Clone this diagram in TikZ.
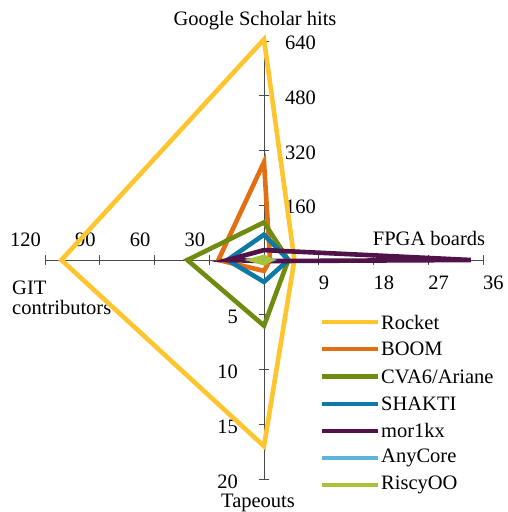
\documentclass[tikz,border=0pt]{standalone}
\usepackage{fontspec}
\setmainfont{Liberation Serif}
\definecolor{cRocket}{HTML}{FFC52F}
\definecolor{cBoom}{HTML}{E36F12}
\definecolor{cCva}{HTML}{6F8C10}
\definecolor{cShakti}{HTML}{0C7AA4}
\definecolor{cMor}{HTML}{51124A}
\definecolor{cAny}{HTML}{5DB5DB}
\definecolor{cRiscy}{HTML}{A8C23C}
\definecolor{cAxis}{HTML}{4A4A4A}
\newcommand\radarpoly[5]{%
  \draw[series,#1] (264,{260-#2/640*219}) -- ({264+#3/36*219},260)
    -- (264,{260+#4/20*219}) -- ({264-#5/120*219},260) -- cycle;}
\newcommand\legitem[3]{%
  \coordinate (l#1a) at (322,#2);
  \coordinate (l#1b) at (378,#2);
  \draw[legline,#1] (l#1a) -- (l#1b);
  \node[lbl,anchor=west] (t#1) at (381,#2) {#3};}
\begin{document}
\begin{tikzpicture}[x=1pt,y=-1pt,
  lbl/.style={inner sep=0pt,font=\fontsize{20.5}{23}\selectfont},
  axisline/.style={draw=cAxis,line width=0.9pt},
  series/.style={line width=4.6pt,line join=miter},
  legline/.style={line width=4.2pt}]
\useasboundingbox (0,0) rectangle (507,512);
\coordinate (C) at (264,260);
% axes
\coordinate (Top) at (264,{260-219});
\coordinate (Right) at ({264+219},260);
\coordinate (Bot) at (264,{260+219});
\coordinate (Left) at ({264-219},260);
\draw[axisline] (Top) -- (Bot);
\draw[axisline] (Left) -- (Right);
% top ticks
\foreach \v in {160,320,480,640}{
  \draw[axisline] (259,{260-\v/640*219}) -- (269,{260-\v/640*219});
  \node[lbl,anchor=west] (tt\v) at (285,{262-\v/640*219}) {\v};}
% right ticks
\foreach \v in {9,18,27,36}{
  \draw[axisline] ({264+\v/36*219},255) -- ({264+\v/36*219},265);
  \node[lbl,anchor=north west] (tr\v) at ({264+\v/36*219},276) {\v};}
% bottom ticks
\foreach \v in {5,10,15,20}{
  \draw[axisline] (259,{260+\v/20*219}) -- (269,{260+\v/20*219});
  \node[lbl,anchor=east] (tb\v) at (238,{262.5+\v/20*219}) {\v};}
% left ticks
\foreach \v in {30,60,90,120}{
  \draw[axisline] ({264-\v/120*219},255) -- ({264-\v/120*219},265);
  \node[lbl,anchor=south east] (tl\v) at ({260-\v/120*219},247) {\v};}
% axis titles
\node[lbl,anchor=base] (tgs) at (255,25) {Google Scholar hits};
\node[lbl,anchor=base] (tfp) at (429,245) {FPGA boards};
\node[lbl,anchor=base west] (tgit) at (12,294) {GIT};
\node[lbl,anchor=base west] (tgit2) at (12,314) {contributors};
\node[lbl,anchor=base] (ttp) at (258,507) {Tapeouts};
% series
\radarpoly{cRocket}{645}{5}{17}{111}
\radarpoly{cBoom}{286}{1}{1}{25}
\radarpoly{cCva}{110}{4}{6}{42}
\radarpoly{cShakti}{74}{4}{2}{20}
\radarpoly{cMor}{29}{34}{0.1}{20}
\radarpoly{cAny}{6}{1}{0.2}{5}
\radarpoly{cRiscy}{9}{1}{0.3}{6}
% legend
\legitem{cRocket}{322}{Rocket}
\legitem{cBoom}{349.2}{BOOM}
\legitem{cCva}{376.4}{CVA6/Ariane}
\legitem{cShakti}{403.6}{SHAKTI}
\legitem{cMor}{430.8}{mor1kx}
\legitem{cAny}{458}{AnyCore}
\legitem{cRiscy}{485.2}{RiscyOO}
\end{tikzpicture}
\end{document}
